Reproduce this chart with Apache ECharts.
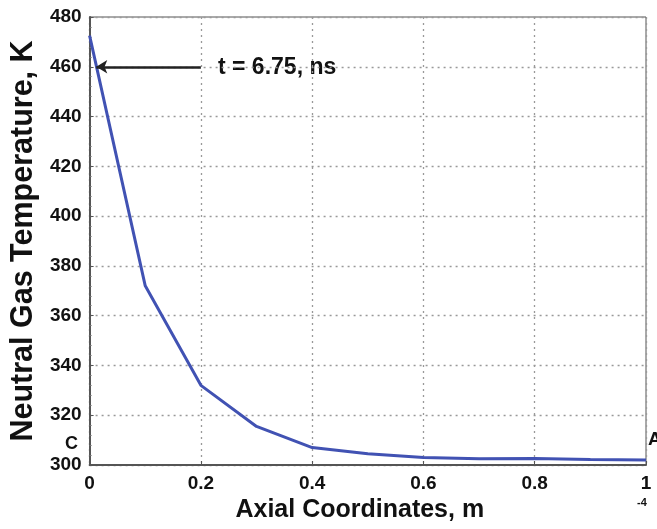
<!DOCTYPE html>
<html><head><meta charset="utf-8">
<script src="https://cdn.jsdelivr.net/npm/echarts@6/dist/echarts.min.js"></script>
<style>html,body{margin:0;padding:0;background:#fff}#c{width:657px;height:529px}</style>
</head><body><div id="c"></div>
<script>
const xValues = [0, 0.1, 0.2, 0.3, 0.4, 0.5, 0.6, 0.7, 0.8, 0.9, 1.0];
const temperature = [472.5, 372, 332, 315.5, 307, 304.5, 303, 302.5, 302.6, 302.2, 302];
const arrowStart = [0.2, 460];
const arrowEnd = [0.012, 460];
const annotationText = 't = 6.75, ns';

const chart = echarts.init(document.getElementById('c'));
const font = 'Liberation Sans, Arial, sans-serif';
chart.setOption({
  animation: false,
  grid: {left: 89, right: 11, top: 17, bottom: 64, show: true, borderColor: '#555', borderWidth: 1},
  xAxis: {
    type: 'value', min: 0, max: 1, interval: 0.2,
    axisLine: {lineStyle: {color: '#555', width: 2}},
    axisTick: {inside: true, length: 4, lineStyle: {color: '#555'}},
    axisLabel: {color: '#111', fontWeight: 'bold', fontSize: 19, fontFamily: font, margin: 9,
      formatter: v => v === 0 ? '0' : (v === 1 ? '1' : String(+v.toFixed(1)))},
    splitLine: {show: true, lineStyle: {color: '#999', type: [2, 4], width: 1.3}},
    name: 'Axial Coordinates, m', nameLocation: 'middle', nameGap: 33,
    nameTextStyle: {color: '#111', fontWeight: 'bold', fontSize: 25, fontFamily: font, padding: [0, 16, 0, 0]}
  },
  yAxis: {
    type: 'value', min: 300, max: 480, interval: 20,
    axisLine: {lineStyle: {color: '#555', width: 2}},
    axisTick: {inside: true, length: 4, lineStyle: {color: '#555'}},
    minorTick: {show: true, splitNumber: 5, length: 2, lineStyle: {color: '#777'}},
    axisLabel: {color: '#111', fontWeight: 'bold', fontSize: 19, fontFamily: font, margin: 8},
    splitLine: {show: true, lineStyle: {color: '#999', type: [2, 4], width: 1.3}},
    name: 'Neutral Gas Temperature, K', nameLocation: 'middle', nameGap: 49,
    nameTextStyle: {color: '#111', fontWeight: 'bold', fontSize: 30.5, fontFamily: font}
  },
  series: [{
    type: 'line',
    data: xValues.map((x, i) => [x, temperature[i]]),
    symbol: 'none',
    lineStyle: {color: '#4152b3', width: 3},
    markLine: {
      silent: true,
      symbol: ['none', 'arrow'], symbolSize: [10, 11],
      lineStyle: {color: '#222', width: 2.5, type: 'solid'},
      label: {show: false},
      data: [[{coord: arrowStart}, {coord: arrowEnd}]]
    }
  }],
  graphic: [
    {type: 'text', left: 218, top: 56, style: {text: annotationText, fill: '#111', font: 'bold 23px ' + font}},
    {type: 'text', left: 65, top: 435, style: {text: 'C', fill: '#111', font: 'bold 18px ' + font}},
    {type: 'text', left: 648, top: 430, style: {text: 'A', fill: '#111', font: 'bold 19px ' + font}},
    {type: 'text', left: 637, top: 497, style: {text: '-4', fill: '#111', font: 'bold 11px ' + font}}
  ]
});
</script></body></html>
